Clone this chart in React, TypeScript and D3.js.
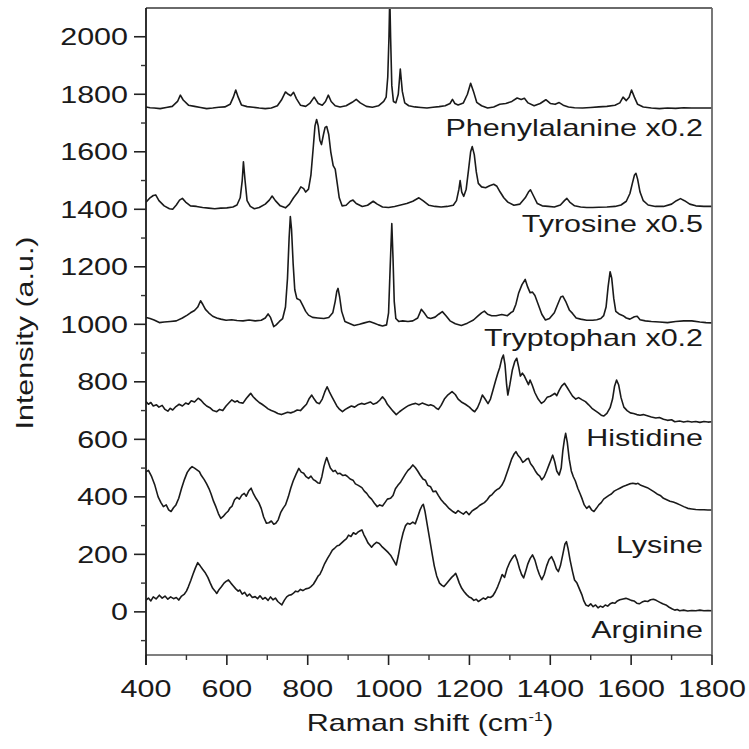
import React from 'react';
import * as d3 from 'd3';

// ---- data (Raman shift cm-1, intensity a.u.) ----
const phenylalanine: [number, number][] = [[400,1756],[410,1753],[420,1752],[435,1750],[450,1754],[465,1758],[478,1775],[485,1797],[492,1780],[505,1762],[520,1758],[535,1754],[550,1750],[565,1752],[580,1755],[595,1756],[608,1765],[616,1790],[622,1815],[628,1790],[636,1763],[650,1757],[665,1755],[680,1752],[695,1750],[710,1752],[725,1760],[735,1780],[745,1808],[752,1800],[758,1795],[765,1807],[772,1785],[782,1762],[795,1758],[805,1768],[816,1790],[826,1768],[836,1762],[844,1775],[851,1797],[858,1775],[868,1760],[880,1756],[895,1760],[910,1772],[920,1782],[930,1770],[945,1758],[960,1755],[975,1760],[988,1775],[994,1790],[998,1860],[1001,2000],[1003,2140],[1005,2000],[1008,1830],[1012,1775],[1018,1770],[1024,1800],[1029,1888],[1034,1810],[1040,1770],[1050,1760],[1065,1756],[1080,1754],[1095,1752],[1110,1755],[1125,1757],[1140,1760],[1152,1768],[1158,1782],[1164,1768],[1172,1763],[1185,1770],[1195,1800],[1203,1838],[1210,1810],[1218,1772],[1230,1760],[1245,1752],[1260,1756],[1275,1765],[1290,1768],[1305,1775],[1318,1787],[1328,1782],[1336,1786],[1345,1770],[1360,1760],[1375,1768],[1389,1781],[1400,1768],[1412,1765],[1422,1771],[1432,1762],[1445,1756],[1460,1753],[1480,1752],[1500,1754],[1520,1756],[1540,1758],[1560,1762],[1572,1770],[1580,1790],[1588,1778],[1595,1790],[1601,1815],[1608,1790],[1616,1765],[1630,1756],[1650,1752],[1670,1750],[1690,1752],[1710,1751],[1730,1753],[1750,1752],[1770,1752],[1800,1752]];

const tyrosine: [number, number][] = [[400,1425],[410,1440],[418,1448],[424,1450],[432,1430],[445,1412],[458,1402],[466,1400],[475,1415],[483,1432],[490,1438],[498,1425],[510,1412],[525,1410],[540,1406],[555,1404],[570,1402],[585,1404],[600,1405],[615,1408],[625,1415],[633,1440],[638,1500],[641,1565],[645,1500],[650,1430],[658,1410],[668,1402],[680,1406],[695,1418],[705,1432],[712,1446],[720,1430],[732,1412],[745,1405],[755,1418],[765,1440],[775,1458],[783,1478],[790,1472],[795,1460],[802,1470],[808,1520],[814,1620],[818,1690],[822,1712],[826,1690],[830,1640],[834,1625],[839,1660],[843,1685],[847,1688],[852,1660],[857,1600],[863,1552],[868,1540],[873,1490],[878,1440],[885,1412],[895,1414],[905,1428],[912,1432],[920,1420],[935,1410],[948,1414],[962,1428],[972,1418],[985,1408],[1000,1406],[1015,1410],[1030,1415],[1045,1420],[1060,1428],[1075,1440],[1085,1430],[1100,1414],[1115,1410],[1130,1408],[1145,1410],[1160,1414],[1168,1430],[1174,1470],[1177,1500],[1181,1460],[1186,1445],[1192,1470],[1198,1540],[1203,1600],[1207,1618],[1212,1590],[1217,1530],[1222,1490],[1230,1478],[1240,1475],[1250,1482],[1260,1487],[1268,1480],[1276,1460],[1285,1440],[1295,1425],[1310,1414],[1325,1418],[1338,1440],[1346,1460],[1351,1468],[1358,1448],[1368,1420],[1380,1412],[1395,1410],[1410,1408],[1425,1415],[1435,1430],[1441,1438],[1448,1425],[1460,1412],[1475,1408],[1490,1406],[1505,1406],[1520,1407],[1540,1408],[1560,1410],[1575,1415],[1588,1428],[1597,1455],[1603,1490],[1608,1518],[1612,1525],[1616,1505],[1622,1460],[1630,1430],[1642,1415],[1660,1410],[1680,1410],[1700,1418],[1712,1430],[1722,1437],[1732,1430],[1745,1418],[1760,1412],[1780,1410],[1800,1410]];

const tryptophan: [number, number][] = [[400,1024],[410,1020],[420,1015],[433,1006],[445,1008],[460,1010],[475,1012],[490,1022],[502,1032],[510,1040],[520,1048],[528,1060],[535,1082],[541,1068],[547,1052],[555,1040],[565,1028],[575,1022],[585,1018],[598,1014],[612,1016],[625,1013],[640,1012],[655,1015],[670,1012],[685,1014],[695,1022],[702,1036],[708,1024],[716,992],[722,998],[730,1010],[738,1020],[745,1060],[750,1160],[754,1300],[757,1375],[760,1330],[764,1210],[768,1120],[773,1090],[781,1084],[788,1065],[795,1045],[802,1032],[812,1024],[825,1022],[840,1020],[852,1024],[862,1040],[868,1080],[872,1115],[875,1125],[879,1095],[884,1045],[892,1010],[902,1004],[915,996],[928,1000],[940,1005],[953,1010],[965,1004],[975,998],[985,994],[995,998],[1000,1040],[1004,1200],[1008,1350],[1011,1230],[1014,1080],[1018,1020],[1025,1010],[1035,1012],[1048,1010],[1060,1012],[1072,1022],[1081,1052],[1088,1040],[1096,1024],[1104,1020],[1115,1025],[1124,1035],[1133,1044],[1142,1030],[1152,1012],[1165,1002],[1180,996],[1195,1004],[1210,1015],[1222,1030],[1230,1040],[1237,1046],[1245,1035],[1255,1030],[1266,1030],[1280,1034],[1294,1030],[1302,1040],[1308,1045],[1315,1070],[1322,1110],[1330,1138],[1338,1156],[1344,1130],[1350,1110],[1356,1112],[1362,1100],[1370,1070],[1379,1035],[1388,1015],[1398,1020],[1410,1040],[1420,1075],[1426,1095],[1431,1098],[1438,1080],[1447,1050],[1455,1038],[1464,1022],[1475,1018],[1490,1014],[1505,1014],[1515,1016],[1525,1020],[1532,1030],[1538,1060],[1543,1130],[1548,1183],[1552,1160],[1557,1090],[1562,1045],[1570,1036],[1580,1030],[1588,1022],[1597,1018],[1608,1026],[1615,1028],[1622,1016],[1635,1012],[1650,1010],[1670,1008],[1690,1006],[1710,1010],[1730,1012],[1750,1012],[1770,1008],[1785,1006],[1800,1005]];

const histidine: [number, number][] = [[400,731],[406,722],[412,728],[418,716],[426,720],[432,712],[440,718],[447,704],[454,698],[460,708],[466,702],[474,714],[482,722],[490,716],[498,726],[505,722],[512,734],[520,730],[529,743],[536,736],[542,726],[550,716],[558,710],[566,700],[575,696],[582,704],[590,700],[598,716],[606,728],[612,737],[620,730],[626,734],[631,728],[640,726],[648,742],[654,752],[659,760],[665,748],[672,738],[680,728],[687,722],[695,714],[702,706],[710,700],[718,696],[726,690],[735,686],[742,690],[750,694],[758,692],[766,696],[774,702],[782,700],[790,712],[797,722],[803,740],[810,754],[816,740],[822,728],[829,724],[836,740],[842,764],[848,783],[854,764],[860,748],[866,732],[872,716],[879,704],[886,696],[893,704],[900,710],[908,716],[916,712],[924,720],[933,725],[940,722],[948,726],[955,730],[962,722],[970,726],[978,736],[985,748],[991,738],[997,722],[1004,710],[1011,698],[1019,686],[1027,696],[1035,704],[1043,712],[1050,718],[1058,722],[1067,725],[1075,720],[1083,726],[1091,722],[1099,718],[1104,720],[1112,716],[1118,708],[1123,704],[1130,718],[1138,740],[1147,755],[1157,766],[1165,756],[1172,740],[1180,730],[1190,722],[1200,712],[1207,702],[1213,696],[1220,710],[1226,730],[1232,754],[1238,742],[1246,724],[1252,740],[1258,770],[1264,800],[1270,829],[1275,850],[1280,880],[1284,893],[1288,860],[1292,790],[1295,754],[1300,790],[1306,840],[1312,870],[1317,882],[1322,850],[1326,820],[1331,830],[1336,820],[1341,805],[1346,790],[1350,806],[1355,790],[1362,762],[1370,740],[1378,725],[1385,732],[1392,746],[1400,750],[1406,755],[1411,760],[1416,752],[1422,770],[1428,785],[1435,795],[1441,782],[1448,766],[1455,750],[1463,740],[1470,745],[1478,738],[1487,731],[1495,720],[1503,708],[1511,700],[1519,692],[1526,684],[1532,681],[1540,690],[1548,710],[1554,740],[1559,785],[1564,806],[1569,790],[1575,745],[1582,712],[1590,700],[1598,692],[1606,690],[1614,686],[1622,684],[1630,686],[1640,682],[1650,678],[1661,674],[1670,676],[1680,670],[1690,666],[1700,668],[1708,661],[1720,664],[1730,660],[1740,663],[1750,660],[1760,662],[1770,659],[1780,662],[1790,660],[1800,661]];

const lysine: [number, number][] = [[400,487],[406,492],[414,470],[422,440],[430,400],[437,380],[443,366],[450,372],[456,355],[462,349],[468,362],[474,372],[481,395],[488,430],[495,460],[502,485],[508,497],[514,505],[520,500],[526,494],[532,488],[537,474],[544,460],[550,445],[556,428],[561,410],[567,385],[573,365],[579,342],[585,325],[591,332],[597,342],[603,350],[608,362],[613,368],[619,390],[625,398],[631,392],[637,406],[643,412],[648,402],[654,420],[660,430],[666,410],[672,395],[679,380],[685,360],[691,330],[698,308],[704,310],[710,316],[716,305],[721,308],[727,320],[733,345],[739,360],[745,372],[752,400],[758,430],[764,455],[771,478],[778,499],[784,486],[790,482],[796,470],[802,464],[808,472],[814,460],[820,455],[826,448],[830,447],[835,470],[840,505],[844,525],[847,537],[851,520],[856,500],[863,488],[868,492],[874,480],[880,482],[887,474],[893,476],[899,470],[905,462],[912,458],[918,445],[925,440],[934,432],[940,420],[946,412],[952,400],[958,392],[965,378],[972,366],[978,372],[985,368],[991,380],[997,392],[1005,395],[1011,405],[1017,428],[1023,440],[1030,452],[1036,466],[1042,480],[1048,492],[1054,500],[1060,511],[1066,502],[1072,490],[1078,476],[1085,462],[1091,458],[1097,440],[1104,435],[1110,418],[1117,420],[1123,405],[1130,390],[1136,380],[1142,372],[1148,362],[1154,355],[1160,348],[1166,343],[1172,352],[1178,346],[1185,340],[1192,349],[1199,338],[1206,350],[1212,356],[1219,362],[1225,370],[1231,375],[1237,380],[1244,390],[1250,402],[1256,408],[1262,418],[1268,425],[1274,430],[1280,440],[1286,456],[1292,480],[1298,505],[1304,530],[1310,548],[1315,557],[1320,545],[1326,535],[1332,520],[1337,525],[1342,532],[1346,534],[1351,516],[1357,505],[1363,490],[1369,478],[1374,472],[1379,459],[1385,470],[1391,490],[1397,512],[1402,530],[1406,545],[1411,522],[1416,490],[1422,476],[1427,500],[1431,560],[1435,600],[1438,621],[1442,590],[1447,530],[1452,490],[1457,470],[1462,455],[1468,430],[1474,410],[1479,392],[1484,372],[1490,360],[1496,368],[1502,355],[1508,349],[1514,360],[1520,372],[1526,380],[1532,392],[1538,398],[1545,405],[1551,410],[1558,420],[1565,425],[1572,430],[1580,436],[1588,440],[1596,445],[1604,447],[1612,445],[1617,447],[1624,440],[1632,436],[1640,432],[1648,425],[1656,418],[1664,410],[1672,405],[1680,395],[1688,390],[1696,385],[1704,382],[1712,378],[1721,372],[1730,366],[1740,360],[1750,358],[1760,356],[1770,355],[1780,355],[1790,354],[1800,354]];

const arginine: [number, number][] = [[400,41],[406,48],[412,38],[418,52],[425,45],[433,58],[440,48],[447,55],[454,44],[461,52],[468,46],[475,50],[481,41],[488,55],[495,62],[500,72],[505,88],[511,110],[516,130],[522,152],[528,171],[534,160],[540,148],[547,135],[553,120],[559,100],[565,82],[571,72],[575,64],[581,78],[587,88],[593,100],[598,106],[604,111],[610,100],[616,90],[622,80],[628,72],[632,76],[638,62],[644,68],[650,55],[656,62],[663,50],[670,53],[676,46],[682,56],[689,44],[695,50],[702,40],[708,52],[714,42],[720,48],[726,36],[731,30],[736,24],[742,40],[748,52],[754,58],[760,60],[764,64],[770,72],[776,70],[782,78],[788,74],[795,80],[802,82],[808,88],[814,96],[820,110],[826,125],[830,130],[836,148],[842,168],[849,186],[855,200],[861,215],[867,222],[873,230],[878,232],[884,240],[890,248],[896,255],[901,267],[907,262],[913,275],[919,270],[925,278],[930,282],[934,285],[939,268],[944,255],[949,240],[954,232],[958,225],[964,235],[970,242],[977,238],[983,228],[989,220],[995,212],[1000,205],[1006,195],[1012,180],[1016,170],[1019,163],[1024,195],[1030,240],[1036,275],[1042,300],[1047,308],[1053,305],[1060,312],[1066,306],[1072,330],[1078,355],[1083,370],[1086,374],[1090,350],[1096,300],[1102,250],[1108,200],[1113,160],[1119,125],[1126,100],[1132,92],[1137,88],[1143,98],[1150,110],[1156,120],[1162,128],[1166,134],[1170,120],[1175,100],[1181,82],[1187,70],[1193,60],[1199,52],[1205,48],[1211,40],[1217,44],[1222,36],[1228,42],[1234,48],[1240,44],[1246,52],[1252,50],[1258,56],[1264,70],[1270,88],[1276,110],[1281,130],[1287,120],[1293,150],[1299,170],[1305,185],[1310,195],[1313,198],[1318,180],[1324,150],[1329,130],[1334,118],[1339,140],[1344,165],[1350,185],[1356,198],[1362,180],[1368,150],[1373,130],[1379,112],[1385,130],[1391,160],[1397,182],[1403,192],[1409,175],[1415,150],[1420,140],[1425,160],[1431,200],[1436,235],[1440,244],[1444,220],[1449,180],[1455,140],[1460,111],[1466,100],[1472,80],[1478,60],[1483,38],[1488,24],[1494,20],[1500,28],[1506,18],[1512,24],[1518,14],[1524,20],[1530,16],[1536,24],[1542,20],[1548,28],[1554,32],[1560,30],[1566,38],[1572,42],[1580,45],[1587,47],[1594,44],[1600,40],[1607,38],[1614,30],[1620,28],[1627,34],[1634,38],[1641,36],[1648,42],[1655,44],[1662,40],[1670,34],[1678,28],[1686,24],[1694,16],[1702,10],[1708,6],[1714,8],[1720,4],[1730,6],[1740,3],[1750,5],[1760,4],[1770,6],[1780,4],[1790,5],[1800,4]];

const seriesLabels = ['Phenylalanine x0.2', 'Tyrosine x0.5', 'Tryptophan x0.2', 'Histidine', 'Lysine', 'Arginine'];
const labelIntensity = [1655, 1321, 925, 577, 205, -90];

const xMajor = [400, 600, 800, 1000, 1200, 1400, 1600, 1800];
const xMinor = [500, 700, 900, 1100, 1300, 1500, 1700];
const yMajor = [0, 200, 400, 600, 800, 1000, 1200, 1400, 1600, 1800, 2000];
const yMinor = [-100, 100, 300, 500, 700, 900, 1100, 1300, 1500, 1700, 1900];

const xTitle = 'Raman shift (cm';
const yTitle = 'Intensity (a.u.)';

// ---- layout ----
const W = 749, H = 749;
const X0 = 146, X1 = 712, YB = 655, YT = 8;
const FONT = '"Liberation Sans", Arial, Helvetica, sans-serif';
const FS = 24;
const SX = 1.27;

export default function App() {
  const x = d3.scaleLinear().domain([400, 1800]).range([X0, X1]);
  const y = d3.scaleLinear().domain([-150, 2100]).range([YB, YT]);
  const line = d3.line<[number, number]>().x(d => x(d[0])).y(d => y(d[1]));
  const all = [phenylalanine, tyrosine, tryptophan, histidine, lysine, arginine];

  const T = (tx: number, ty: number, rot = 0) =>
    `translate(${tx},${ty}) rotate(${rot}) scale(${SX},1)`;

  return (
    <svg width={W} height={H} style={{ position: 'absolute', left: 0, top: 0, background: '#fff' }}
      fontFamily={FONT}>
      <rect x={0} y={0} width={W} height={H} fill="#fff" />
      <defs>
        <clipPath id="plot">
          <rect x={X0} y={YT} width={X1 - X0} height={YB - YT} />
        </clipPath>
      </defs>
      <g clipPath="url(#plot)">
        {all.map((s, i) => (
          <path key={i} d={line(s) || ''} fill="none" stroke="#1a1a1a" strokeWidth={1.6}
            strokeLinejoin="round" />
        ))}
      </g>
      {/* frame */}
      <line x1={X0} x2={X1} y1={YT} y2={YT} stroke="#6a6a6a" strokeWidth={1.8} />
      <line x1={X1} x2={X1} y1={YT} y2={YB} stroke="#6a6a6a" strokeWidth={1.8} />
      <line x1={X0} x2={X1} y1={YB} y2={YB} stroke="#555" strokeWidth={1.6} />
      <line x1={X0} x2={X0} y1={YT} y2={YB + 10} stroke="#1a1a1a" strokeWidth={1.8} />
      {/* x ticks */}
      {xMajor.map(v => (
        <g key={'xm' + v}>
          <line x1={x(v)} x2={x(v)} y1={YB} y2={YB + 10} stroke="#222" strokeWidth={1.6} />
          <text transform={T(x(v), 697)} textAnchor="middle" fontSize={FS} fill="#1a1a1a">{v}</text>
        </g>
      ))}
      {xMinor.map(v => (
        <line key={'xn' + v} x1={x(v)} x2={x(v)} y1={YB} y2={YB + 5} stroke="#333" strokeWidth={1.4} />
      ))}
      {/* y ticks */}
      {yMajor.map(v => (
        <g key={'ym' + v}>
          <line x1={X0 - 12} x2={X0} y1={y(v)} y2={y(v)} stroke="#222" strokeWidth={1.6} />
          <text transform={T(128, y(v) + 8.5)} textAnchor="end" fontSize={FS} fill="#1a1a1a">{v}</text>
        </g>
      ))}
      {yMinor.map(v => (
        <line key={'yn' + v} x1={X0 - 5} x2={X0} y1={y(v)} y2={y(v)} stroke="#333" strokeWidth={1.4} />
      ))}
      {/* series labels */}
      {seriesLabels.map((t, i) => (
        <text key={t} transform={T(703, y(labelIntensity[i]))} textAnchor="end" fontSize={FS} fill="#1a1a1a">{t}</text>
      ))}
      {/* axis titles */}
      <text transform={T(430, 731)} textAnchor="middle" fontSize={FS} fill="#1a1a1a">
        {xTitle}
        <tspan fontSize={13} dy={-10}>-1</tspan>
        <tspan dy={10}>)</tspan>
      </text>
      <text transform={T(33, 333, -90)} textAnchor="middle" fontSize={FS} fill="#1a1a1a">{yTitle}</text>
    </svg>
  );
}
